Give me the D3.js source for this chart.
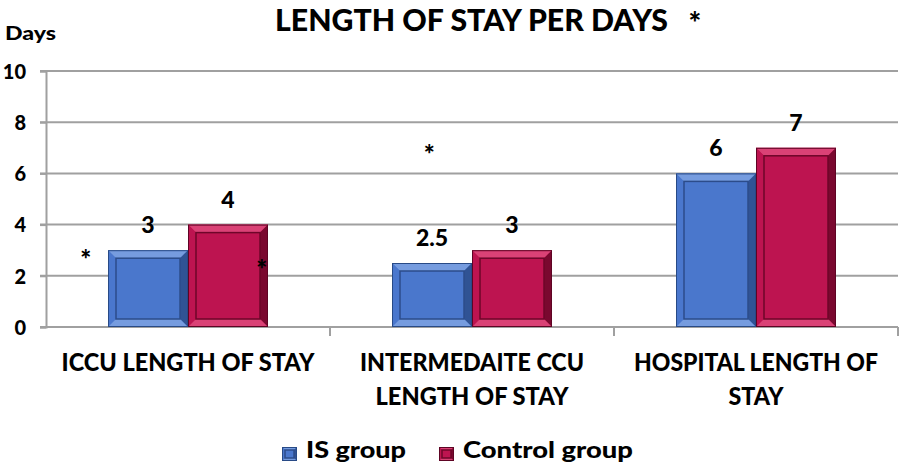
<!DOCTYPE html>
<html>
<head>
<meta charset="utf-8">
<script src="https://cdn.jsdelivr.net/npm/d3@7"></script>
<style>
  body { margin: 0; background: #fff; }
  svg text { font-family: Lato, "Open Sans", sans-serif; font-weight: 900; fill: #000; }
</style>
</head>
<body>
<div id="root"></div>
<script>
const categories = [['ICCU LENGTH OF STAY'], ['INTERMEDAITE CCU', 'LENGTH OF STAY'], ['HOSPITAL LENGTH OF', 'STAY']];
const series = ['IS group', 'Control group'];
const isGroup = [3, 2.5, 6];
const controlGroup = [4, 3, 7];
const yTicks = [0, 2, 4, 6, 8, 10];
// asterisks: category index, fraction of the band, value
const stars = [[0, 0.14, 2.65], [0, 0.76, 2.25], [1, 0.35, 6.75]];

const w = 904, h = 468;
const plotLeft = 46, plotRight = 898, plotTop = 71, plotBottom = 327;

const colors = {
  'IS group': { base: '#4a77cc', light: '#7ea2e2', dark: '#2c4c8a', edge: '#284a86' },
  'Control group': { base: '#bd1450', light: '#df4a7d', dark: '#6e0629', edge: '#5e0424' }
};

const svg = d3.select('#root').append('svg').attr('width', w).attr('height', h);

// fit a text element to a given width
function fit(sel, width) {
  sel.attr('textLength', width).attr('lengthAdjust', 'spacingAndGlyphs');
  return sel;
}

const x0 = d3.scaleBand().domain(d3.range(categories.length)).range([plotLeft, plotRight]);
const x1 = d3.scaleBand().domain(series).range([0, x0.bandwidth()]).paddingOuter(0.775);
const y = d3.scaleLinear().domain([0, 10]).range([plotBottom, plotTop]);

// gridlines
svg.append('g').selectAll('line').data(yTicks.filter(d => d > 0)).enter().append('line')
  .attr('x1', plotLeft - 6).attr('x2', plotRight)
  .attr('y1', d => y(d)).attr('y2', d => y(d))
  .attr('stroke', '#a0a0a0').attr('stroke-width', 2);

// y axis
const yAxis = d3.axisLeft(y).tickValues(yTicks).tickSize(6).tickPadding(14);
const ya = svg.append('g').attr('transform', `translate(${plotLeft},0)`).call(yAxis);
ya.select('.domain').attr('stroke', '#a0a0a0').attr('stroke-width', 2);
ya.selectAll('.tick line').attr('stroke', '#a0a0a0').attr('stroke-width', 2);
ya.selectAll('.tick text').style('font-size', '20px').attr('font-family', null).attr('dy', '0.36em');

// x axis baseline with boundary ticks
const xa = svg.append('g');
xa.append('line').attr('x1', plotLeft - 6).attr('x2', plotRight).attr('y1', y(0)).attr('y2', y(0))
  .attr('stroke', '#a0a0a0').attr('stroke-width', 2);
xa.selectAll('.bt').data(d3.range(1, categories.length + 1)).enter().append('line')
  .attr('x1', d => x0(d - 1) + x0.bandwidth()).attr('x2', d => x0(d - 1) + x0.bandwidth())
  .attr('y1', y(0)).attr('y2', y(0) + 9)
  .attr('stroke', '#a0a0a0').attr('stroke-width', 2);

// bevel bar
function bevelBar(g, x, yy, bw, bh, c, b) {
  g.append('rect').attr('x', x).attr('y', yy).attr('width', bw).attr('height', bh).attr('fill', c.base);
  const pts = {
    top: [[x, yy], [x + bw, yy], [x + bw - b, yy + b], [x + b, yy + b]],
    left: [[x, yy], [x + b, yy + b], [x + b, yy + bh - b], [x, yy + bh]],
    right: [[x + bw, yy], [x + bw, yy + bh], [x + bw - b, yy + bh - b], [x + bw - b, yy + b]],
    bottom: [[x, yy + bh], [x + b, yy + bh - b], [x + bw - b, yy + bh - b], [x + bw, yy + bh]]
  };
  const fills = { top: c.light, left: c.base, right: c.dark, bottom: c.light };
  Object.keys(pts).forEach(k => {
    g.append('polygon').attr('points', pts[k].map(p => p.join(',')).join(' ')).attr('fill', fills[k]).attr('opacity', 0.85);
  });
  g.append('rect').attr('x', x + b).attr('y', yy + b).attr('width', bw - 2 * b).attr('height', bh - 2 * b)
    .attr('fill', c.base).attr('stroke', c.dark).attr('stroke-width', 1.5);
  g.append('rect').attr('x', x + 0.5).attr('y', yy + 0.5).attr('width', bw - 1).attr('height', bh - 1)
    .attr('fill', 'none').attr('stroke', c.edge).attr('stroke-width', 1);
}

const seriesData = { 'IS group': isGroup, 'Control group': controlGroup };
const bars = svg.append('g');
categories.forEach((cat, i) => {
  series.forEach(s => {
    const v = seriesData[s][i];
    const bx = x0(i) + x1(s);
    bevelBar(bars.append('g'), bx, y(v), x1.bandwidth(), y(0) - y(v), colors[s], 8);
    svg.append('text').attr('x', bx + x1.bandwidth() / 2).attr('y', y(v) - 17)
      .attr('text-anchor', 'middle').style('font-size', '23px').text(v);
  });
});

// category labels
const labelWidths = [[253], [224, 193], [244, 55]];
const cl = svg.append('g');
categories.forEach((lines, i) => {
  lines.forEach((t, j) => {
    fit(cl.append('text').attr('x', x0(i) + x0.bandwidth() / 2).attr('y', 371 + j * 34)
      .attr('text-anchor', 'middle').style('font-size', '24px').text(t), labelWidths[i][j]);
  });
});

// asterisks
svg.selectAll('.star').data(stars).enter().append('text')
  .attr('x', d => x0(d[0]) + d[1] * x0.bandwidth())
  .attr('y', d => y(d[2]) + 10)
  .attr('text-anchor', 'middle').style('font-size', '26px').text('*');

// title
fit(svg.append('text').attr('x', 275).attr('y', 31).style('font-size', '30px').text('LENGTH OF STAY PER DAYS'), 393);
svg.append('text').attr('x', 695).attr('y', 34).attr('text-anchor', 'middle').style('font-size', '30px').text('*');
fit(svg.append('text').attr('x', 5).attr('y', 40).style('font-size', '18px').text('Days'), 51);

// legend
const legendWidths = [100, 170];
const leg = svg.append('g').attr('transform', 'translate(282,447)');
series.forEach((s, i) => {
  const g = leg.append('g').attr('transform', `translate(${i === 0 ? 0 : 157},0)`);
  bevelBar(g, 0, 0, 15, 14, colors[s], 3);
  fit(g.append('text').attr('x', 24).attr('y', 11).style('font-size', '22px').text(s), legendWidths[i]);
});
</script>
</body>
</html>
